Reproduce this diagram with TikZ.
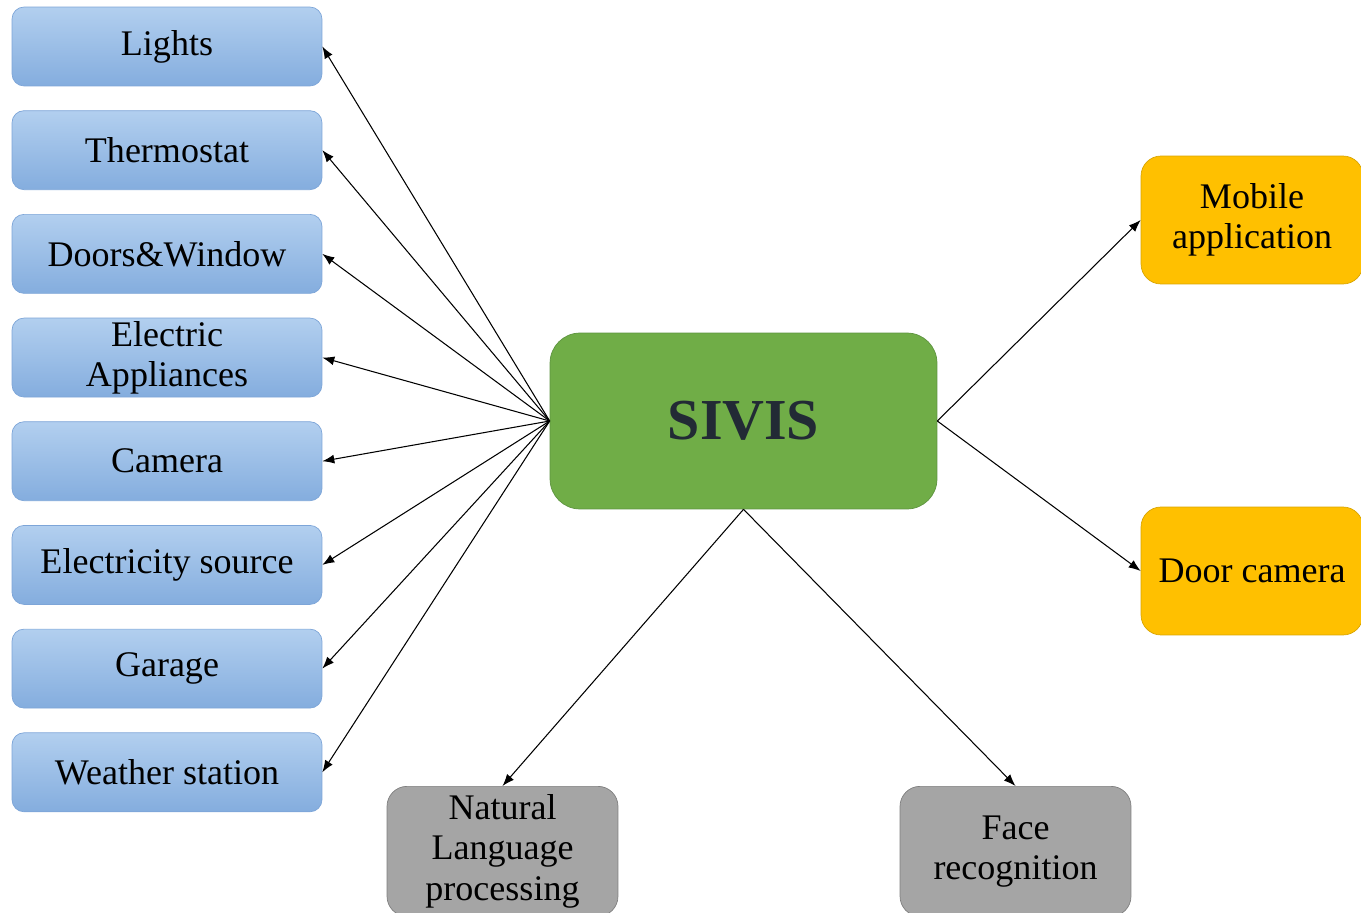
\documentclass[tikz,border=0pt]{standalone}
\usepackage{fontspec}
\setmainfont{Liberation Serif}
\usetikzlibrary{positioning,arrows.meta}
\definecolor{bluetop}{HTML}{B2CFEF}
\definecolor{bluebot}{HTML}{84ADDE}
\definecolor{blueline}{HTML}{7DA5D8}
\definecolor{hubfill}{HTML}{70AD47}
\definecolor{hubline}{HTML}{5E9440}
\definecolor{hubtext}{HTML}{222A35}
\definecolor{appfill}{HTML}{FFC000}
\definecolor{appline}{HTML}{D9A400}
\definecolor{aifill}{HTML}{A5A5A5}
\definecolor{ailine}{HTML}{7F7F7F}

\begin{document}
\begin{tikzpicture} [x=0.02cm, y=-0.02cm, node distance=0.48cm,
    nodes={align=center, inner sep=0, font=\fontsize{20.5}{23}\selectfont},
    device/.style={draw=blueline, top color=bluetop, bottom color=bluebot,
      rounded corners=0.24cm, minimum width=6.2cm, minimum height=1.58cm},
    hub/.style={draw=hubline, fill=hubfill, rounded corners=0.6cm,
      minimum width=7.74cm, minimum height=3.52cm, text=hubtext,
      font=\fontsize{33}{36}\selectfont\bfseries},
    app/.style={draw=appline, fill=appfill, rounded corners=0.4cm,
      minimum width=4.44cm, minimum height=2.56cm},
    ai/.style={draw=ailine, fill=aifill, rounded corners=0.4cm,
      minimum width=4.62cm, minimum height=2.6cm, anchor=north},
    link/.style={-{Latex[length=2.4mm,width=1.8mm]}, line width=0.6pt}]
  \useasboundingbox (0,0) rectangle (1361,912);
  \clip (0,0) rectangle (1361,912);
  % devices
  \node[device] (lights) at (167,46.5) {Lights};
  \node[device, below=of lights] (thermo) {Thermostat};
  \node[device, below=of thermo] (doors) {Doors\&Window};
  \node[device, below=of doors] (appliances) {Electric\\Appliances};
  \node[device, below=of appliances] (camera) {Camera};
  \node[device, below=of camera] (power) {Electricity source};
  \node[device, below=of power] (garage) {Garage};
  \node[device, below=of garage] (weather) {Weather station};
  % centre
  \node[hub] (sivis) at (743.5,421) {SIVIS};
  % apps
  \node[app] (mobile) at (1252,220) {Mobile\\application};
  \node[app] (doorcam) at (1252,571) {Door camera};
  % services
  \node[ai] (nlp) at (502.5,786) {Natural\\Language\\processing};
  \node[ai] (face) at (1015.5,786) {Face\\recognition};
  % links
  \foreach \dev in {lights,thermo,doors,appliances,camera,power,garage,weather}
    \draw[link] (sivis.west) -- (\dev.east);
  \draw[link] (sivis.east) -- (mobile.west);
  \draw[link] (sivis.east) -- (doorcam.west);
  \draw[link] (sivis.south) -- (nlp.north);
  \draw[link] (sivis.south) -- (face.north);
\end{tikzpicture}
\end{document}
